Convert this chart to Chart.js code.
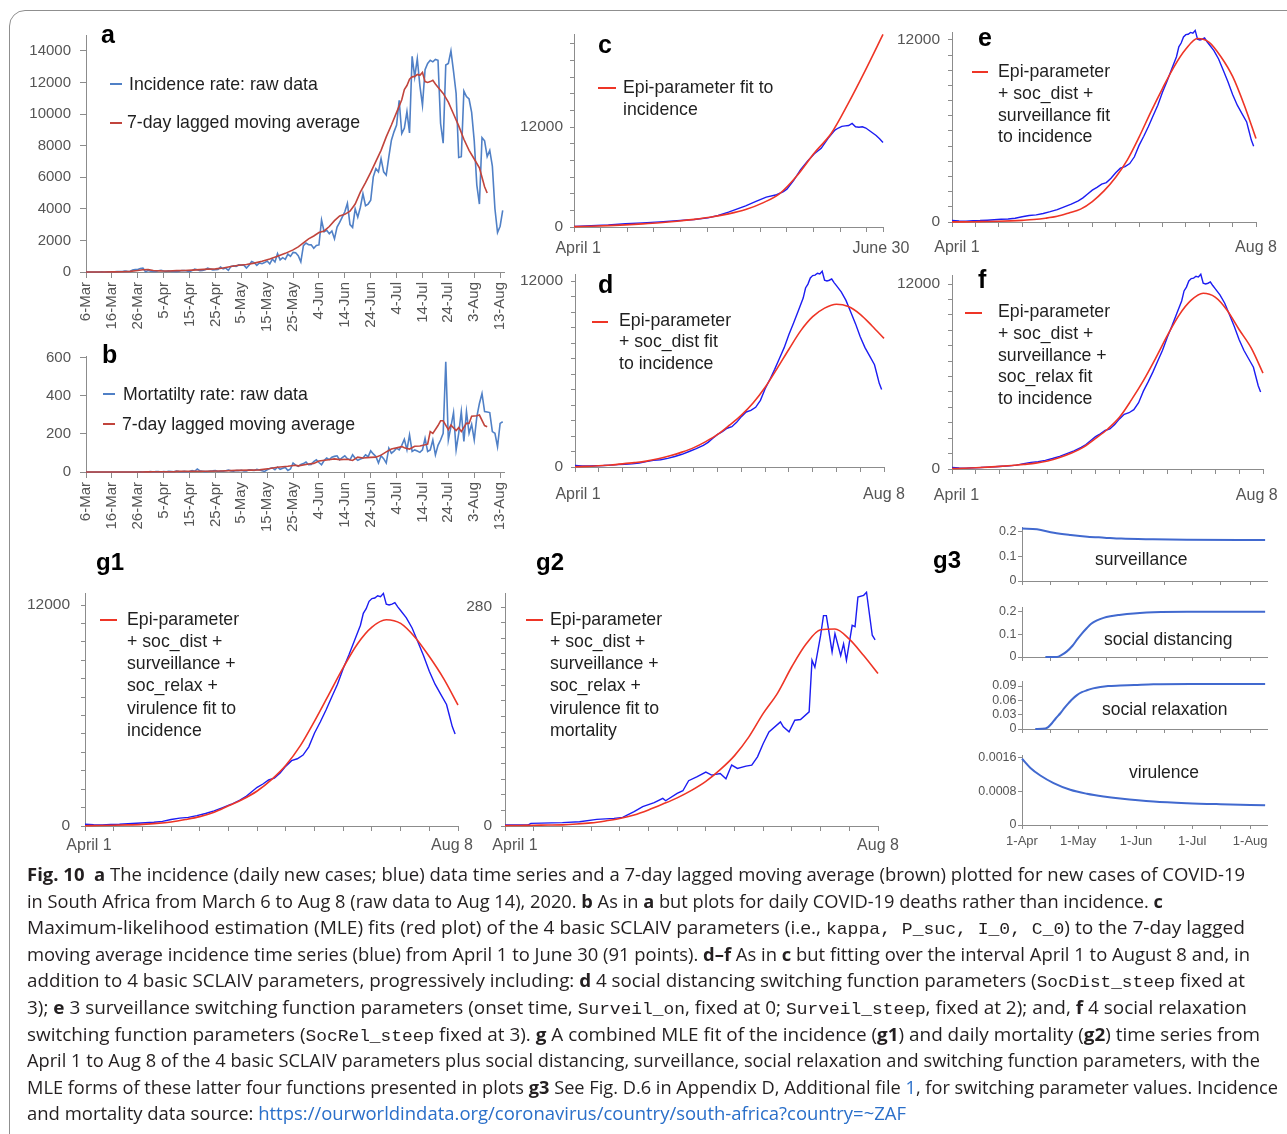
<!DOCTYPE html>
<html>
<head>
<meta charset="utf-8">
<title>Fig. 10 - SCLAIV fits, South Africa 2020</title>
<script src="https://cdn.jsdelivr.net/npm/chart.js@4.4.1/dist/chart.umd.min.js"></script>
<style>
  html, body { margin: 0; padding: 0; background: #fff; }
  body { width: 1287px; height: 1134px; overflow: hidden; position: relative; font-family: 'Liberation Sans', Arial, sans-serif; }
  #frame { position: absolute; left: 9px; top: 10px; width: 1340px; height: 1200px; border: 1px solid #8f8f8f; border-radius: 16px; }
  #fig { position: absolute; left: 0; top: 0; width: 1287px; height: 1134px; }
  #fig canvas { position: absolute; }
  .txt { position: absolute; white-space: pre; color: #1f1f1f; }
  .tag { position: absolute; white-space: nowrap; font-weight: bold; color: #000; }
  .mark { position: absolute; height: 2px; }
  #caption { position: absolute; left: 27px; top: 861px; font-family: 'Open Sans', 'Noto Sans', sans-serif; font-size: 18px; line-height: 26.6px; color: #231f20; }
  #caption div { white-space: nowrap; width: max-content; transform-origin: 0 0; }
  #caption b { font-weight: 700; }
  #caption code { font-family: 'Liberation Mono', 'DejaVu Sans Mono', monospace; font-size: 17px; line-height: 1; }
  #caption .lk { color: #2a6fc9; }
</style>
</head>
<body>
<div id="frame"></div>
<div id="fig"></div>
<div id="caption">
  <div><b>Fig. 10</b>&nbsp; <b>a</b> The incidence (daily new cases; blue) data time series and a 7-day lagged moving average (brown) plotted for new cases of COVID-19</div>
  <div>in South Africa from March 6 to Aug 8 (raw data to Aug 14), 2020. <b>b</b> As in <b>a</b> but plots for daily COVID-19 deaths rather than incidence. <b>c</b></div>
  <div>Maximum-likelihood estimation (MLE) fits (red plot) of the 4 basic SCLAIV parameters (i.e., <code>kappa, P_suc, I_0, C_0</code>) to the 7-day lagged</div>
  <div>moving average incidence time series (blue) from April 1 to June 30 (91 points). <b>d–f</b> As in <b>c</b> but fitting over the interval April 1 to August 8 and, in</div>
  <div>addition to 4 basic SCLAIV parameters, progressively including: <b>d</b> 4 social distancing switching function parameters (<code>SocDist_steep</code> fixed at</div>
  <div>3); <b>e</b> 3 surveillance switching function parameters (onset time, <code>Surveil_on</code>, fixed at 0; <code>Surveil_steep</code>, fixed at 2); and, <b>f</b> 4 social relaxation</div>
  <div>switching function parameters (<code>SocRel_steep</code> fixed at 3). <b>g</b> A combined MLE fit of the incidence (<b>g1</b>) and daily mortality (<b>g2</b>) time series from</div>
  <div>April 1 to Aug 8 of the 4 basic SCLAIV parameters plus social distancing, surveillance, social relaxation and switching function parameters, with the</div>
  <div>MLE forms of these latter four functions presented in plots <b>g3</b> See Fig. D.6 in Appendix D, Additional file <span class="lk">1</span>, for switching parameter values. Incidence</div>
  <div>and mortality data source: <span class="lk">https://ourworldindata.org/coronavirus/country/south-africa?country=~ZAF</span></div>
</div>
<script>
// ---- data ----
// panels a/b: daily values, index 0 = 6 Mar, last = 14 Aug
var dateTicks = ['6-Mar', '16-Mar', '26-Mar', '5-Apr', '15-Apr', '25-Apr', '5-May', '15-May', '25-May',
  '4-Jun', '14-Jun', '24-Jun', '4-Jul', '14-Jul', '24-Jul', '3-Aug', '13-Aug'];

var casesRaw = [
  0, 1, 0, 1, 4, 0, 6, 4, 7, 14, 13, 11, 23, 31, 34, 52, 38, 34, 128, 152, 155, 218, 243, 17, 93, 46,
  27, 27, 82, 112, 63, 43, 69, 37, 38, 17, 51, 89, 99, 67, 25, 87, 178, 143, 86, 99, 142, 251, 196, 136,
  148, 165, 318, 201, 247, 104,
  354, 385, 354, 447, 437, 434, 250, 427, 663, 595, 424, 573, 528, 595, 698, 511, 818, 635, 1160, 767,
  908, 803, 1134, 988, 1240, 1218, 1032, 647, 1673, 1837, 1727,
  1716, 1500, 1674, 1711, 3290, 2550, 2640, 2420, 2594, 2100, 2840, 3147, 3470, 3809, 4340, 3000, 2825,
  4000, 3470, 4100, 4950, 4200, 4300, 4550, 6020, 6540, 6340, 7180, 6340, 6130,
  7290, 8340, 8870, 9300, 10870, 8760, 9100, 10150, 8800, 13650, 12350, 13500, 11800, 10550, 12800,
  13200, 13400, 13300, 13450, 13400, 9400, 8150, 13100, 13200, 14000, 12700, 11300, 7250, 7300, 11450,
  11100, 10950, 10100, 8300, 5500, 4300, 8500, 8300, 7300, 7700, 6700, 4000, 2500, 2900, 3900
];

var deathsRaw = [
  0, 0, 0, 0, 0, 0, 0, 0, 0, 0, 0, 0, 0, 0, 0, 0, 0, 0, 0, 0, 0, 1, 0, 1, 1, 2,
  0, 2, 2, 0, 2, 1, 3, 2, 1, 5, 2, 1, 3, 1, 2, 7, 4, 16, 6, 4, 2, 3, 5, 6, 8, 3, 5, 4, 7, 10,
  6, 4, 8, 7, 9, 5, 6, 12, 10, 8, 14, 10, 7, 3, 12, 18, 22, 12, 26, 14, 20, 24, 8, 16, 47, 36, 30, 40,
  44, 52, 38,
  40, 55, 64, 50, 38, 60, 73, 65, 78, 82, 85, 64, 75, 85, 70, 64, 90, 72, 61, 68, 73, 90, 80, 111, 95,
  82, 47, 85, 70, 47,
  125, 99, 110, 125, 116, 140, 172, 116, 195, 108, 116, 110, 103, 116, 177, 108, 116, 168, 90, 140,
  168, 203, 579, 168, 238, 312, 116, 203, 317, 160, 317, 203, 250, 168, 290, 360, 412, 317, 315, 312,
  212, 203, 133, 255, 264
];

// 7-day lagged averages, days counted from 1 April
var caseAvgDays = [-26, -20, -15, -12, -9, -6, -4, -2,
  0, 3, 6, 9, 12, 15, 18, 21, 24, 27, 30, 33, 36, 39, 42, 45, 48, 51, 54,
  56, 58, 60, 62, 64, 66, 68, 70, 72, 74, 76, 78, 80, 82, 84, 86, 88, 90, 92, 94, 96,
  97, 98, 99, 100, 101, 102, 103, 104, 105, 106, 107, 108, 109, 110,
  112, 114, 116, 118, 120, 122, 124, 126, 127, 128, 129];
var caseAvg = [0, 2, 8, 20, 40, 90, 140, 150,
  95, 70, 60, 85, 95, 120, 150, 180, 200, 250, 350, 430, 470, 560, 680, 820, 1000, 1180, 1400,
  1590, 1850, 2100, 2280, 2500, 2600, 2880, 3250, 3550, 3650, 3850, 4300, 5050, 5650, 6300, 7000, 7700,
  8550, 9300, 10100, 10900,
  11550, 11800, 12200, 12350, 12380, 12500, 12450, 12630, 12050, 12000, 12050, 12130, 11900, 11700,
  11300, 10750, 10000, 9250, 8400, 7700, 7150, 6600, 6000, 5400, 5000];

var deathAvgDays = [-26, -10, -5, -2,
  0, 8, 9, 20, 26, 32, 38, 41, 45, 48, 52, 55, 56, 60, 62, 64, 67, 70, 72, 75, 77, 79, 81, 84, 86,
  88, 90, 92, 96, 97, 99, 101, 103, 106, 107, 108, 110, 111, 112, 114, 115, 117, 118, 119, 121,
  122, 123, 125, 126, 128, 129];
var deathAvg = [0, 0, 0.3, 0.8,
  1.3, 1.3, 3.4, 4.3, 5.5, 8.5, 9.8, 11, 18.3, 24.7, 29.8, 35.3, 32.3, 41.7, 45.1, 57.9, 63, 68.9,
  65.1, 67.2, 60.4, 77.9, 73.6, 76.6, 77.9,
  88.5, 105.5, 120.4, 133.2, 126.8, 120.4, 135.3, 136.2, 146, 212, 203, 243.8, 269, 269, 222.6,
  246, 218, 233, 212, 256.6, 255, 292.8, 295, 299, 244, 238];

// panel c: incidence 1 Apr - 30 Jun and the epi-parameter fit
var cDays = [0, 5, 10, 15, 20, 25, 30, 35, 39, 42, 45, 48, 50, 53, 56, 59, 61, 62, 64, 66, 68, 70, 72,
  74, 76, 77, 78, 79, 80, 81, 82, 83, 84, 85, 86, 87, 88, 89, 90];
var cCases = [80, 150, 240, 390, 490, 620, 760, 900, 1100, 1380, 1780, 2250, 2550, 3080, 3600, 3880,
  4250, 4550, 5600, 6900, 7900, 8800, 9450, 10650, 11650, 11900, 12100, 12150, 12200, 12450, 12050,
  12000, 12050, 11900, 11600, 11300, 11000, 10600, 10150];
var fitDaysC = [0, 5, 10, 15, 20, 25, 30, 35, 40, 45, 50, 55, 60, 65, 70, 75, 80, 85, 90];
var fitC = [40, 90, 160, 260, 380, 520, 700, 920, 1200, 1580, 2100, 2900, 4050, 6200, 8900, 11300,
  14950, 18950, 23150];

// fitted curves d-g2, 1 Apr - 8 Aug
var fitDays = [0, 5, 10, 15, 20, 25, 30, 35, 40, 45, 50, 55, 60, 65, 70, 75, 80, 85, 90, 95, 100, 105,
  110, 115, 120, 125, 130];
var fitD = [20, 40, 80, 130, 200, 280, 380, 530, 720, 960, 1250, 1640, 2100, 2700, 3350, 4150, 5150,
  6350, 7600, 8800, 9700, 10250, 10500, 10350, 9850, 9100, 8300];
var fitE = [5, 10, 20, 30, 50, 75, 110, 160, 250, 380, 600, 850, 1350, 2050, 2950, 4100, 5600, 7250,
  8800, 10250, 11400, 12100, 11850, 10900, 9600, 7700, 5500];
var fitF = [30, 50, 80, 120, 170, 230, 300, 380, 520, 750, 1040, 1420, 1980, 2580, 3350, 4480, 5730,
  7150, 8650, 10000, 10950, 11400, 11150, 10300, 9050, 7870, 6220];
var fitG1 = [15, 25, 40, 60, 90, 140, 220, 350, 510, 750, 1100, 1450, 1900, 2520, 3300, 4350, 5700,
  7150, 8600, 9900, 10800, 11200, 11000, 10250, 9200, 8000, 6570];
var fitG2 = [0.5, 0.7, 1, 1.2, 1.5, 2.5, 4, 6.5, 9.5, 14, 20.5, 28, 36, 45.5, 57, 72, 90, 114, 144, 170,
  204, 233, 251, 252, 239, 218, 195];

// g3 switching functions
var survDays = [0, 8, 17, 26, 35, 44, 53, 70, 88, 130];
var surveillance = [0.214, 0.211, 0.197, 0.188, 0.181, 0.177, 0.173, 0.170, 0.168, 0.167];
var distDays = [12.5, 18.7, 21, 24, 27, 29.4, 32, 34.7, 37, 40.1, 43.6, 47.2, 52, 56.1, 63, 70.3, 88.2, 130];
var socialDist = [0, 0, 0.008, 0.025, 0.05, 0.077, 0.104, 0.129, 0.148, 0.163, 0.174, 0.181, 0.187,
  0.191, 0.196, 0.199, 0.201, 0.201];
var relaxDays = [7.1, 12.5, 14, 16, 18, 20.5, 22.7, 24.9, 27, 29.4, 32, 34.7, 38, 41.9, 46, 52.5, 60,
  70.3, 90, 130];
var socialRelax = [0, 0.001, 0.004, 0.012, 0.022, 0.033, 0.044, 0.054, 0.063, 0.071, 0.077, 0.081,
  0.085, 0.088, 0.09, 0.091, 0.092, 0.0935, 0.094, 0.094];
var virDays = [0, 4.5, 9.8, 16.9, 25.8, 34.7, 43.6, 52.5, 70.3, 88.2, 106, 130];
var virulence = [0.00158, 0.00136, 0.00118, 0.001, 0.00084, 0.000745, 0.00068, 0.000632, 0.00056,
  0.00052, 0.000496, 0.000472];
var monthDays = [0, 30, 61, 91, 122];
var monthLabels = ['1-Apr', '1-May', '1-Jun', '1-Jul', '1-Aug'];

// ---- drawing ----
Chart.defaults.font.family = "'Liberation Sans', Arial, sans-serif";
var fig = document.getElementById('fig');
var axisColor = '#8c8c8c', tickColor = '#555';
var rawBlue = '#5080c6', avgRed = '#c1443c', obsBlue = '#1c1cf2', fitRed = '#ee3526', fnBlue = '#4169cf';

function trace(xs, ys, color, width, opt) {
  opt = opt || {};
  var pts = [];
  for (var i = 0; i < xs.length; i++) {
    if (opt.from !== undefined && xs[i] < opt.from) continue;
    pts.push({x: xs[i] + (opt.shift || 0), y: ys[i]});
  }
  return {
    data: pts, borderColor: color, borderWidth: width, pointRadius: 0, fill: false, clip: 8,
    tension: opt.smooth ? 0.4 : 0, cubicInterpolationMode: opt.smooth ? 'monotone' : 'default'
  };
}

function daily(ys, color, width) {
  return trace(ys.map(function (v, i) { return i; }), ys, color, width);
}

// o.marks = tick marks drawn, o.labels = [value, text] pairs (a label may sit off a mark)
function scaleOpts(o, axis, size) {
  var labelAt = {};
  o.labels.forEach(function (p) { labelAt[p[0]] = p[1]; });
  var all = o.marks.concat(o.labels.map(function (p) { return p[0]; }))
    .filter(function (v, i, arr) { return arr.indexOf(v) === i; })
    .sort(function (p, q) { return p - q; });
  return {
    type: 'linear', position: axis === 'x' ? 'bottom' : 'left',
    min: 0, max: o.max,
    grid: {
      drawOnChartArea: false, drawTicks: true, tickLength: o.tl, lineWidth: 1,
      color: function (c) { return c.tick && o.marks.indexOf(c.tick.value) < 0 ? 'rgba(0,0,0,0)' : axisColor; }
    },
    border: {display: true, color: axisColor, width: 1},
    ticks: {
      autoSkip: false, padding: o.pad, color: tickColor, font: {size: o.size},
      minRotation: o.rot || 0, maxRotation: o.rot || 0,
      callback: function (v) { return labelAt[v] !== undefined ? labelAt[v] : ''; }
    },
    afterBuildTicks: function (s) { s.ticks = all.map(function (v) { return {value: v}; }); },
    afterFit: function (s) { if (axis === 'x') s.height = size; else s.width = size; }
  };
}

// box = plot area in page pixels, yw/xh = room kept for the axes
function panel(box, xo, yo, datasets) {
  var padTop = 24, padRight = 50;
  var w = box.r - box.l + box.yw + padRight;
  var h = box.b - box.t + padTop + box.xh;
  var cv = document.createElement('canvas');
  cv.width = w; cv.height = h;
  cv.style.left = (box.l - box.yw) + 'px';
  cv.style.top = (box.t - padTop) + 'px';
  cv.style.width = w + 'px';
  cv.style.height = h + 'px';
  fig.appendChild(cv);
  return new Chart(cv, {
    type: 'line',
    data: {datasets: datasets},
    options: {
      responsive: false, animation: false, devicePixelRatio: 1,
      layout: {padding: {top: padTop, right: padRight, left: 0, bottom: 0}},
      plugins: {legend: {display: false}, tooltip: {enabled: false}},
      scales: {x: scaleOpts(xo, 'x', box.xh), y: scaleOpts(yo, 'y', box.yw)}
    }
  });
}

function text(x, base, lines, size, lh, cls) {
  var d = document.createElement('div');
  d.className = cls || 'txt';
  d.style.left = x + 'px';
  d.style.top = (base - lh / 2 - 0.3465 * size) + 'px';
  d.style.fontSize = size + 'px';
  d.style.lineHeight = lh + 'px';
  d.textContent = lines.join('\n');
  fig.appendChild(d);
}

function legend(x, base, lines, lh, m1, m2, my, color) {
  text(x, base, lines, 17.7, lh);
  var m = document.createElement('div');
  m.className = 'mark';
  m.style.left = m1 + 'px';
  m.style.top = Math.round(my - 1) + 'px';
  m.style.width = (m2 - m1) + 'px';
  m.style.background = color;
  fig.appendChild(m);
}

function tag(x, base, s, size) {
  text(x, base, [s], size || 25, size || 25, 'tag');
}

function stepTicks(step, top) {
  var t = [];
  for (var v = 0; v <= top + 1e-9; v += step) t.push(Math.round(v * 1e6) / 1e6);
  return t;
}
function numLabels(vals) {
  return vals.map(function (v) { return [v, String(v)]; });
}

// a: incidence, raw and 7-day average
var abX = {max: 161.5, marks: dateTicks.map(function (s, i) { return i * 10; }),
  labels: dateTicks.map(function (s, i) { return [i * 10, s]; }), size: 15, tl: 6, pad: 4, rot: 90};
panel({l: 86, r: 504, t: 35, b: 272, yw: 60, xh: 70}, abX,
  {max: 15000, marks: stepTicks(2000, 14000), labels: numLabels(stepTicks(2000, 14000)), size: 15, tl: 6, pad: 9},
  [trace(caseAvgDays, caseAvg, avgRed, 1.6, {shift: 26}), daily(casesRaw, rawBlue, 1.6)]);

// b: mortality, raw and 7-day average
panel({l: 86, r: 504, t: 356, b: 472, yw: 60, xh: 70}, abX,
  {max: 609, marks: [0, 200, 400, 600], labels: numLabels([0, 200, 400, 600]), size: 15, tl: 6, pad: 9},
  [trace(deathAvgDays, deathAvg, avgRed, 1.6, {shift: 26}), daily(deathsRaw, rawBlue, 1.6)]);

// c
panel({l: 574, r: 883, t: 34, b: 227, yw: 60, xh: 40},
  {max: 90, marks: [0, 7.75, 15.5, 23.25, 31, 38.75, 46.5, 54.25, 62, 69.75, 77.5, 85.25, 90],
    labels: [[1.2, 'April 1'], [89.4, 'June 30']], size: 16, tl: 5, pad: 7},
  {max: 23200, marks: stepTicks(2000, 22000), labels: numLabels([0, 12000]), size: 15.5, tl: 4, pad: 7},
  [trace(fitDaysC, fitC, fitRed, 1.6, {smooth: true}), trace(cDays, cCases, obsBlue, 1.4)]);

function aprAug(pad, first, last) {
  return {max: 130, marks: stepTicks(10, 130), labels: [[first, 'April 1'], [last, 'Aug 8']], size: 16, tl: 5, pad: pad};
}
function caseY(max, pad) {
  return {max: max, marks: stepTicks(1000, 12000), labels: numLabels([0, 12000]), size: 15.5, tl: 4, pad: pad};
}
var casesObs = trace(caseAvgDays, caseAvg, obsBlue, 1.4, {from: 0});

// d, e, f, g1: incidence fits
panel({l: 575, r: 884, t: 274, b: 467, yw: 60, xh: 40}, aprAug(13, 1.3, 130), caseY(12452, 8),
  [trace(fitDays, fitD, fitRed, 1.6, {smooth: true}), casesObs]);
panel({l: 952, r: 1256, t: 32, b: 222, yw: 60, xh: 40}, aprAug(11, 2.1, 130), caseY(12527, 8),
  [trace(fitDays, fitE, fitRed, 1.6, {smooth: true}), casesObs]);
panel({l: 952, r: 1263, t: 275, b: 469, yw: 60, xh: 40}, aprAug(12, 1.9, 127.4), caseY(12584, 8),
  [trace(fitDays, fitF, fitRed, 1.6, {smooth: true}), casesObs]);
panel({l: 85, r: 458, t: 593, b: 826, yw: 60, xh: 40}, aprAug(5, 1.4, 127.9), caseY(12652, 11),
  [trace(fitDays, fitG1, fitRed, 1.6, {smooth: true}), casesObs]);

// g2: mortality fit
panel({l: 505, r: 878, t: 593, b: 826, yw: 60, xh: 40}, aprAug(5, 3.5, 130),
  {max: 298, marks: stepTicks(20, 280), labels: numLabels([0, 280]), size: 15.5, tl: 4, pad: 9},
  [trace(fitDays, fitG2, fitRed, 1.6, {smooth: true}), trace(deathAvgDays, deathAvg, obsBlue, 1.4, {from: 0})]);

// g3: the four switching functions
var g3Marks = [0, 15, 30, 45, 61, 76, 91, 106, 122];
var g3X = {max: 131, marks: g3Marks, labels: [], size: 13, tl: 4, pad: 5};
function g3Y(max, ticks) {
  return {max: max, marks: ticks, labels: numLabels(ticks), size: 12.5, tl: 4, pad: 1.5};
}
panel({l: 1022, r: 1267, t: 527, b: 581, yw: 60, xh: 12}, g3X, g3Y(0.2204, [0, 0.1, 0.2]),
  [trace(survDays, surveillance, fnBlue, 2, {smooth: true})]);
panel({l: 1022, r: 1267, t: 607, b: 657, yw: 60, xh: 12}, g3X, g3Y(0.2222, [0, 0.1, 0.2]),
  [trace(distDays, socialDist, fnBlue, 2, {smooth: true})]);
panel({l: 1022, r: 1267, t: 681, b: 729, yw: 60, xh: 12}, g3X, g3Y(0.1005, [0, 0.03, 0.06, 0.09]),
  [trace(relaxDays, socialRelax, fnBlue, 2, {smooth: true})]);
panel({l: 1022, r: 1267, t: 755, b: 825, yw: 60, xh: 26},
  Object.assign({}, g3X, {labels: monthDays.map(function (d, i) { return [d, monthLabels[i]]; })}),
  g3Y(0.00167, [0, 0.0008, 0.0016]),
  [trace(virDays, virulence, fnBlue, 2, {smooth: true})]);

// legends
legend(129, 91, ['Incidence rate: raw data'], 21.7, 110, 122, 84.3, rawBlue);
legend(127, 129.3, ['7-day lagged moving average'], 21.7, 110, 122, 122.7, avgRed);
legend(123, 401, ['Mortatilty rate: raw data'], 21.7, 103, 115, 394.3, rawBlue);
legend(122, 430.5, ['7-day lagged moving average'], 21.7, 103, 115, 424.3, avgRed);
legend(623, 94, ['Epi-parameter fit to', 'incidence'], 21.5, 598, 616, 88.3, fitRed);
legend(619, 326.7, ['Epi-parameter', '+ soc_dist fit', 'to incidence'], 21.5, 592, 608, 321.7, fitRed);
legend(998, 78.3, ['Epi-parameter', '+ soc_dist +', 'surveillance fit', 'to incidence'], 21.7, 972, 988, 72, fitRed);
legend(998, 318.3, ['Epi-parameter', '+ soc_dist +', 'surveillance +', 'soc_relax fit', 'to incidence'], 21.7, 965, 982, 313.3, fitRed);
legend(127, 625, ['Epi-parameter', '+ soc_dist +', 'surveillance +', 'soc_relax +', 'virulence fit to', 'incidence'], 22.2, 100, 117, 620, fitRed);
legend(550, 625, ['Epi-parameter', '+ soc_dist +', 'surveillance +', 'soc_relax +', 'virulence fit to', 'mortality'], 22.2, 526, 543, 620, fitRed);

text(1095, 565, ['surveillance'], 17.5, 20);
text(1104, 645, ['social distancing'], 17.5, 20);
text(1102, 715, ['social relaxation'], 17.5, 20);
text(1129, 778, ['virulence'], 17.5, 20);

// panel letters
tag(101, 42.7, 'a');
tag(102, 363.3, 'b');
tag(598, 53.3, 'c');
tag(598, 292.7, 'd');
tag(978, 46, 'e');
tag(978, 288.3, 'f');
tag(96, 570.7, 'g1', 24);
tag(536, 570.7, 'g2', 24);
tag(933, 568.3, 'g3', 24);

// stretch each caption row to its printed width
var captionWidths = [1218, 1136, 1218, 1223, 1218, 1220, 1233, 1233, 1251, 879];
var rows = document.querySelectorAll('#caption div');
for (var i = 0; i < rows.length; i++) {
  var natural = rows[i].getBoundingClientRect().width;
  rows[i].style.transform = 'scaleX(' + (captionWidths[i] / natural).toFixed(4) + ')';
}
</script>
</body>
</html>
